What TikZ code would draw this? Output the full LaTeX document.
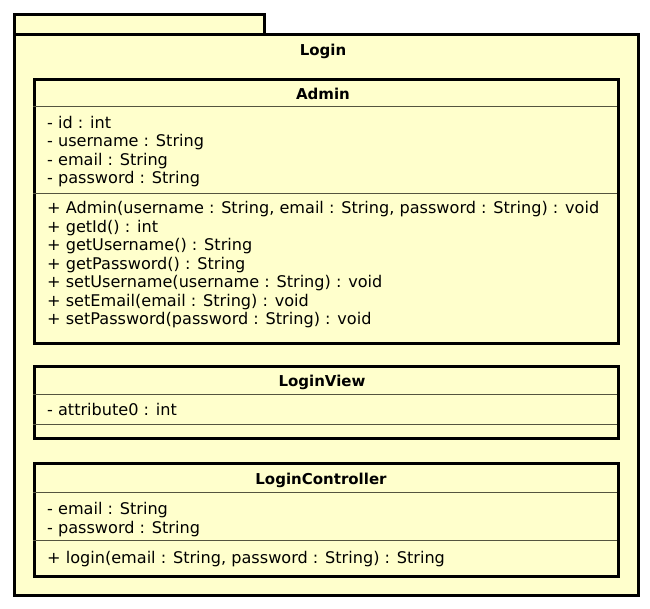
\documentclass[tikz,border=0pt]{standalone}
\usepackage{fontspec}
\setmainfont{DejaVu Sans}
\definecolor{umlfill}{HTML}{FFFFCC}
\definecolor{sepcol}{HTML}{55553F}
\tikzset{
  pkg/.style={draw=black, line width=2.6pt, fill=umlfill},
  classbox/.style={draw=black, line width=2.6pt, fill=umlfill, anchor=north west, inner sep=0pt, minimum width=584pt},
  sepline/.style={draw=sepcol, line width=1pt},
  member/.style={anchor=base west, inner sep=0pt, font=\fontsize{16.1}{18}\selectfont},
  title/.style={anchor=base, inner sep=0pt, font=\bfseries\fontsize{15}{17}\selectfont},
}
\begin{document}
\begin{tikzpicture}[x=1pt,y=-1pt]
\useasboundingbox (0,0) rectangle (650,608);
% package
\node[pkg, anchor=north west, inner sep=0pt, minimum width=250pt, minimum height=20pt] (tab) at (13,13) {};
\node[pkg, anchor=north west, inner sep=0pt, minimum width=624pt, minimum height=561pt] (pkgbody) at (13,33) {};
\node[title] (pkgname) at (323,55) {Login};

% Admin
\node[classbox, minimum height=264pt] (admin) at (33,78) {};
\node[title] (adminT) at (323,99) {Admin};
\draw[sepline] (33,106) coordinate (a1) -- (617,106) coordinate (a2);
\node[member] (a_id) at (47,128) {- id : int};
\node[member] (a_un) at (47,146.5) {- username : String};
\node[member] (a_em) at (47,165) {- email : String};
\node[member] (a_pw) at (47,183.5) {- password : String};
\draw[sepline] (33,193) coordinate (a3) -- (617,193) coordinate (a4);
\node[member] (m1) at (47,213.5) {+ Admin(username : String, email : String, password : String) : void};
\node[member] (m2) at (47,232) {+ getId() : int};
\node[member] (m3) at (47,250.5) {+ getUsername() : String};
\node[member] (m4) at (47,269) {+ getPassword() : String};
\node[member] (m5) at (47,287.5) {+ setUsername(username : String) : void};
\node[member] (m6) at (47,306) {+ setEmail(email : String) : void};
\node[member] (m7) at (47,324.5) {+ setPassword(password : String) : void};

% LoginView
\node[classbox, minimum height=72pt] (view) at (33,365) {};
\node[title] (viewT) at (322,386.5) {LoginView};
\draw[sepline] (33,394) coordinate (v1) -- (617,394) coordinate (v2);
\node[member] (v_a) at (47,415.5) {- attribute0 : int};
\draw[sepline] (33,424) coordinate (v3) -- (617,424) coordinate (v4);

% LoginController
\node[classbox, minimum height=113pt] (ctrl) at (33,462) {};
\node[title] (ctrlT) at (321,484.5) {LoginController};
\draw[sepline] (33,492) coordinate (c1) -- (617,492) coordinate (c2);
\node[member] (c_em) at (47,514.3) {- email : String};
\node[member] (c_pw) at (47,533) {- password : String};
\draw[sepline] (33,540) coordinate (c3) -- (617,540) coordinate (c4);
\node[member] (c_m) at (47,563) {+ login(email : String, password : String) : String};
\end{tikzpicture}
\end{document}
